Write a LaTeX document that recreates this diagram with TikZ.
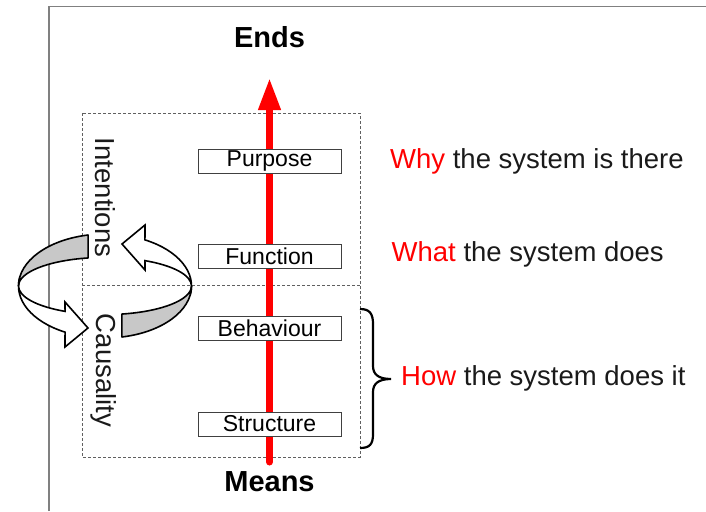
\documentclass[tikz,border=0pt]{standalone}
\usepackage{fontspec}
\setmainfont{Liberation Sans}
\usetikzlibrary{arrows.meta,calc}
\definecolor{framegray}{HTML}{808080}
\definecolor{dashgray}{HTML}{606060}
\definecolor{boxgray}{HTML}{404040}
\definecolor{ringgray}{HTML}{C8C8C8}
\definecolor{textblack}{HTML}{1A1A1A}
\tikzset{
  framestyle/.style={draw=framegray, line width=1.6pt},
  dashbox/.style={draw=dashgray, line width=1pt, dash pattern=on 3pt off 2pt},
  levelbox/.style={draw=boxgray, line width=1pt, fill=white, minimum width=143pt, minimum height=24pt, inner sep=0pt, font=\fontsize{23}{26}\selectfont, text=black},
  sidetext/.style={inner sep=0pt, font=\fontsize{27.5}{32}\selectfont, text=textblack},
  endtext/.style={inner sep=0pt, font=\fontsize{29}{33}\selectfont\bfseries, text=black},
  rottext/.style={inner sep=0pt, font=\fontsize{27.5}{32}\selectfont, text=textblack, rotate=-90},
  redarrow/.style={draw=red, line width=7pt, line cap=round, -{Triangle[width=21pt,length=32pt]}},
  grayband/.style={fill=ringgray, draw=black, line width=1.6pt, line join=round},
  whiteband/.style={fill=white, draw=black, line width=1.6pt, line join=miter},
  bracestyle/.style={draw=black, line width=2.2pt}
}
\begin{document}
\begin{tikzpicture}[x=1pt,y=1pt]
\useasboundingbox (0,0) rectangle (706,-511);
% outer frame
\draw[framestyle] (49,-511) -- (49,-6.5) -- (706,-6.5);
% dashed box with divider
\draw[dashbox] (82,-113) rectangle (360,-457);
\draw[dashbox] (82,-285) -- (360,-285);
% red means-ends arrow
\coordinate (arrbot) at (269.5,-462);
\coordinate (arrtip) at (269.5,-78);
\draw[redarrow] (arrbot) -- (arrtip);
% level boxes
\node[levelbox] (purpose) at (269.5,-161) {Purpose};
\node[levelbox] (function) at (269.5,-256) {Function};
\node[levelbox] (behaviour) at (269.5,-328) {Behaviour};
\node[levelbox] (structure) at (269.5,-424) {Structure};
% ends / means
\node[endtext, anchor=base] (ends) at (269.5,-47.7) {Ends};
\node[endtext, anchor=base] (means) at (269.5,-491) {Means};
% side texts
\node[sidetext, anchor=base west] (why) at (390,-168) {\textcolor{red}{Why} the system is there};
\node[sidetext, anchor=base west] (what) at (391.5,-261.7) {\textcolor{red}{What} the system does};
\node[sidetext, anchor=base west] (how) at (401,-385) {\textcolor{red}{How} the system does it};
% brace
\draw[bracestyle] (360,-309) .. controls (370,-309) and (373,-314) .. (373,-324)
  -- (373,-366) .. controls (373,-374) and (378,-379) .. (391,-379)
  .. controls (378,-379) and (373,-384) .. (373,-392)
  -- (373,-434) .. controls (373,-444) and (370,-448) .. (360,-448);
% rotated labels
\node[rottext] (intentions) at (105,-197.5) {Intentions};
\node[rottext] (causality) at (104,-370.5) {Causality};
% cycle arrows
\coordinate (ringc) at (105,-286);
\draw[whiteband] (ringc) ++(170:86.5 and 52)
  arc[start angle=170,end angle=242.5,x radius=86.5,y radius=52]
  -- (65,-347) -- (88,-328) -- (65,-302)
  -- ($(ringc)+(242.5:86.5 and 28.6)$)
  arc[start angle=242.5,end angle=180,x radius=86.5,y radius=28.6] -- cycle;
\draw[whiteband] (ringc) ++(-10:86.5 and 52)
  arc[start angle=-10,end angle=62.5,x radius=86.5,y radius=52]
  -- (145,-225) -- (122,-244) -- (145,-270)
  -- ($(ringc)+(62.5:86.5 and 28.6)$)
  arc[start angle=62.5,end angle=0,x radius=86.5,y radius=28.6] -- cycle;
\draw[grayband] (ringc) ++(101.3:86.5 and 52)
  arc[start angle=101.3,end angle=180,x radius=86.5,y radius=52]
  arc[start angle=180,end angle=101.3,x radius=86.5,y radius=28.6] -- cycle;
\draw[grayband] (ringc) ++(-78.7:86.5 and 52)
  arc[start angle=-78.7,end angle=0,x radius=86.5,y radius=52]
  arc[start angle=0,end angle=-78.7,x radius=86.5,y radius=28.6] -- cycle;
\end{tikzpicture}
\end{document}
